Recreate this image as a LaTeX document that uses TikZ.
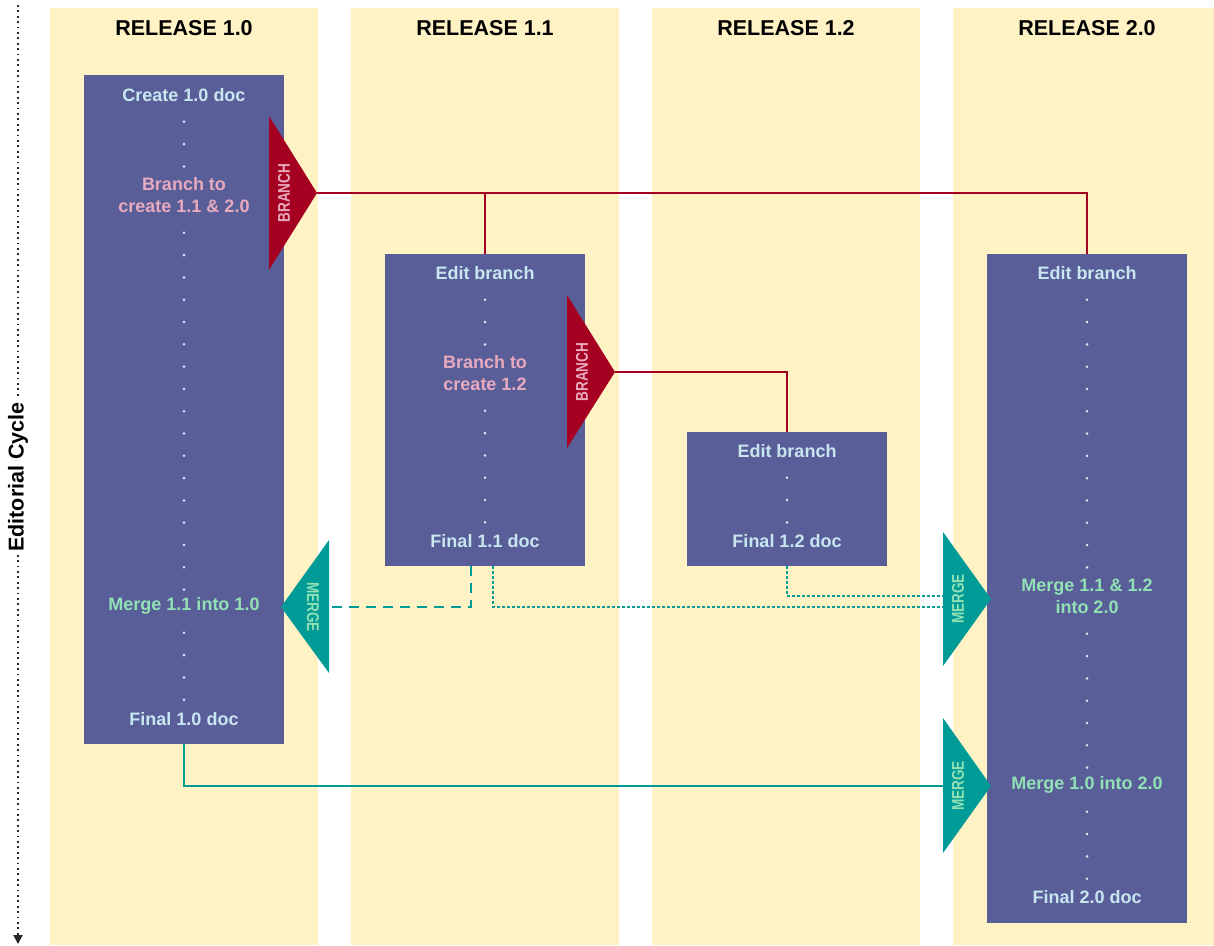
\documentclass[tikz,border=0pt]{standalone}
\usepackage{fontspec}
\setmainfont{Liberation Sans}
\newfontfamily\narrowsans[FakeStretch=0.8]{Liberation Sans}
\usetikzlibrary{arrows.meta}

\definecolor{bandyellow}{RGB}{255,242,196}
\definecolor{boxblue}{RGB}{89,94,153}
\definecolor{branchred}{RGB}{165,0,33}
\definecolor{mergeteal}{RGB}{0,155,150}
\definecolor{lblblue}{RGB}{200,230,240}
\definecolor{lblpink}{RGB}{232,170,190}
\definecolor{lblgreen}{RGB}{145,225,180}

\tikzset{
  hdr/.style={font=\bfseries\fontsize{21.5}{26}\selectfont},
  docbox/.style={fill=boxblue, draw=none, minimum width=200pt, inner sep=0pt, anchor=north},
  lbl/.style={font=\bfseries\fontsize{18}{22.3}\selectfont, align=center, inner sep=0pt},
  tag/.style={font=\narrowsans\bfseries\fontsize{17}{20}\selectfont, inner sep=0pt},
  dotc/.style={fill=lblblue!70!white},
  branchline/.style={draw=branchred, line width=2pt},
  mergeline/.style={draw=mergeteal, line width=2.5pt},
  axisdots/.style={line width=1.8pt, dash pattern=on 1.8pt off 3.6pt, black!85}
}

\begin{document}
\begin{tikzpicture}[x=1pt, y=-1pt]
  \useasboundingbox (0,0) rectangle (1214,945);

  % release columns
  \foreach \x/\r/\n in {50/1.0/a, 351/1.1/b, 652/1.2/c, 953/2.0/d}{
    \fill[bandyellow] (\x,8) rectangle ++(268,937);
    \node[hdr] (head\n) at (\x+134,28) {RELEASE \r};
  }

  % editorial cycle axis
  \node[hdr, rotate=90, fill=white, inner sep=3pt] (cycle) at (18,477) {Editorial Cycle};
  \draw[axisdots] (18,5) -- (cycle.east);
  \draw[axisdots, -{Triangle[width=9pt,length=9pt]}] (cycle.west) -- (18,944);

  % documents
  \node[docbox, minimum height=669pt] (doc10) at (184,75) {};
  \node[docbox, minimum height=312pt] (doc11) at (485,254) {};
  \node[docbox, minimum height=134pt] (doc12) at (787,432) {};
  \node[docbox, minimum height=669pt] (doc20) at (1087,254) {};

  % release 1.0
  \node[lbl, text=lblblue] (create10) at (184,95) {Create 1.0 doc};
  \node[lbl, text=lblpink] (branch10) at (184,195) {Branch to\\create 1.1 \& 2.0};
  \node[lbl, text=lblgreen] (merge10) at (184,606) {Merge 1.1 into 1.0};
  \node[lbl, text=lblblue] (final10) at (184,719) {Final 1.0 doc};
  \foreach \k in {1,...,3} \fill[dotc] (184,{95+\k*22.3+4.5}) circle (1.4);
  \foreach \k in {1,...,17} \fill[dotc] (184,{206+\k*22.3+4.5}) circle (1.4);
  \foreach \k in {1,...,4} \fill[dotc] (184,{606+\k*22.3+4.5}) circle (1.4);

  % release 1.1
  \node[lbl, text=lblblue] (edit11) at (485,273) {Edit branch};
  \node[lbl, text=lblpink] (branch11) at (485,373) {Branch to\\create 1.2};
  \node[lbl, text=lblblue] (final11) at (485,541) {Final 1.1 doc};
  \foreach \k in {1,...,3} \fill[dotc] (485,{273+\k*22.3+4.5}) circle (1.4);
  \foreach \k in {1,...,6} \fill[dotc] (485,{384+\k*22.3+4.5}) circle (1.4);

  % release 1.2
  \node[lbl, text=lblblue] (edit12) at (787,451) {Edit branch};
  \node[lbl, text=lblblue] (final12) at (787,541) {Final 1.2 doc};
  \foreach \k in {1,...,3} \fill[dotc] (787,{451+\k*22.3+4.5}) circle (1.4);

  % release 2.0
  \node[lbl, text=lblblue] (edit20) at (1087,273) {Edit branch};
  \node[lbl, text=lblgreen] (mergeA20) at (1087,596) {Merge 1.1 \& 1.2\\into 2.0};
  \node[lbl, text=lblgreen] (mergeB20) at (1087,785) {Merge 1.0 into 2.0};
  \node[lbl, text=lblblue] (final20) at (1087,897) {Final 2.0 doc};
  \foreach \k in {1,...,13} \fill[dotc] (1087,{273+\k*22.3+4.5}) circle (1.4);
  \foreach \k in {1,...,7} \fill[dotc] (1087,{607+\k*22.3+4.5}) circle (1.4);
  \foreach \k in {1,...,4} \fill[dotc] (1087,{785+\k*22.3+4.5}) circle (1.4);

  % branch and merge flags
  \fill[branchred] (269,116) -- (317,193) -- (269,270) -- cycle;
  \coordinate (br1) at (317,193);
  \node[tag, rotate=90, text=lblpink] (br1tag) at (284,193) {BRANCH};

  \fill[branchred] (567,295) -- (615,372) -- (567,448) -- cycle;
  \coordinate (br2) at (615,372);
  \node[tag, rotate=90, text=lblpink] (br2tag) at (582,372) {BRANCH};

  \fill[mergeteal] (329,540) -- (281,607) -- (329,673) -- cycle;
  \coordinate (mg1) at (329,607);
  \node[tag, rotate=-90, text=lblgreen] (mg1tag) at (313,607) {MERGE};

  \fill[mergeteal] (943,532) -- (991,599) -- (943,666) -- cycle;
  \coordinate (mg2a) at (943,596);
  \coordinate (mg2b) at (943,607);
  \node[tag, rotate=90, text=lblgreen] (mg2tag) at (958,599) {MERGE};

  \fill[mergeteal] (943,718) -- (991,786) -- (943,853) -- cycle;
  \coordinate (mg3) at (943,786);
  \node[tag, rotate=90, text=lblgreen] (mg3tag) at (958,786) {MERGE};

  % connectors
  \draw[branchline] (br1) -| (doc20.north);
  \draw[branchline] (br1) -| (doc11.north);
  \draw[branchline] (br2) -| (doc12.north);

  \draw[mergeline, dash pattern=on 10pt off 7pt] ([xshift=-14pt]doc11.south) |- (mg1);
  \draw[mergeline, dash pattern=on 2.5pt off 2.5pt] ([xshift=8pt]doc11.south) |- (mg2b);
  \draw[mergeline, dash pattern=on 2.5pt off 2.5pt] (doc12.south) |- (mg2a);
  \draw[mergeline] (doc10.south) |- (mg3);
\end{tikzpicture}
\end{document}
